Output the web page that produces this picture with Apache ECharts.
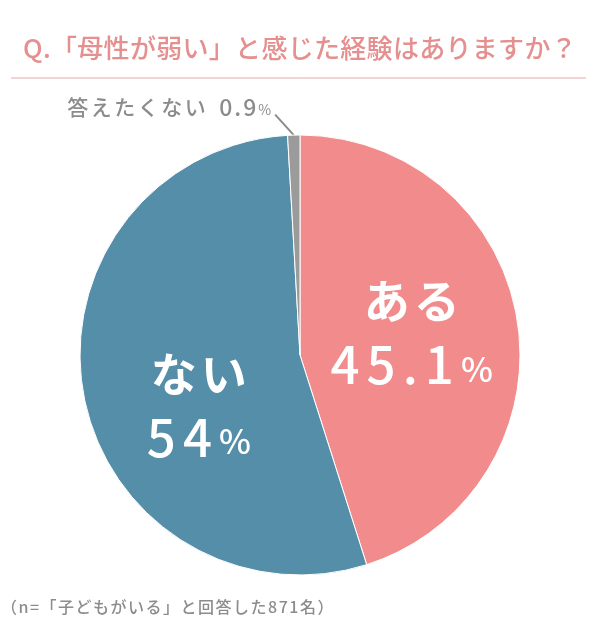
<!doctype html>
<html lang="ja">
<head>
    <meta charset="UTF-8">
    <title>母性が弱いと感じた経験</title>
    <script src="https://cdn.jsdelivr.net/npm/echarts@6/dist/echarts.min.js"></script>
    <style>
        html, body {margin: 0; padding: 0; background: #fff;}
        #chart {width: 600px; height: 630px;}
    </style>
</head>
<body>
<div id="chart"></div>
<script type="text/javascript">
    const categories = ['ある', 'ない', '答えたくない'];
    const values = [45.1, 54, 0.9];
    const valueLabels = ['45.1', '54', '0.9'];
    const colors = ['#F28C8C', '#558EA8', '#9B9B9B'];

    const font = '"Noto Sans CJK JP", "Noto Sans", sans-serif';

    // split text into rich tokens so each character gets some spacing
    function spaced(text, style) {
        let out = '';
        for (let ch of text) {
            out += '{' + style + '|' + ch + '}';
        }
        return out;
    }

    let data_arr = [];
    for (let i = 0; i < categories.length; i++) {
        let item = {
            name: categories[i],
            value: values[i],
            itemStyle: {color: colors[i]}
        };
        if (i === 2) {
            item.label = {
                position: 'outside',
                formatter: spaced(categories[i], 'n') + '{s| }' + spaced(valueLabels[i], 'v') + '{p|%}',
                rich: {
                    n: {fontSize: 21, color: '#8c8c8c', fontFamily: font, fontWeight: 500, padding: [0, 2.5, 0, 0]},
                    s: {fontSize: 14, padding: [0, 7, 0, 0]},
                    v: {fontSize: 23, color: '#8c8c8c', fontFamily: font, fontWeight: 500, padding: [0, 2, 0, 0]},
                    p: {fontSize: 14, color: '#8c8c8c', fontFamily: font, padding: [5, 0, 0, 0]}
                }
            };
            item.labelLine = {show: true, length: 22, length2: 0, lineStyle: {color: '#8c8c8c', width: 2}};
        } else {
            item.label = {
                position: 'inside',
                formatter: spaced(categories[i], 'n') + '\n' + spaced(valueLabels[i], 'v') + '{p|%}',
                rich: {
                    n: {fontSize: 46, color: '#fff', fontFamily: font, fontWeight: 'bold', lineHeight: 64, padding: [0, 2, 0, 2]},
                    v: {fontSize: 51, color: '#fff', fontFamily: font, fontWeight: 500, lineHeight: 64, padding: [0, 7, 0, 0]},
                    p: {fontSize: 34, color: '#fff', fontFamily: font, fontWeight: 500, padding: [8, 0, 0, 0]}
                }
            };
            item.labelLine = {show: false};
        }
        data_arr.push(item);
    }

    let chart = echarts.init(document.getElementById('chart'));
    chart.setOption({
        animation: false,
        title: [{
            text: spaced('Q.「母性が弱い」と感じた経験はありますか？', 't'),
            left: 'center',
            top: 30,
            textStyle: {
                rich: {
                    t: {color: '#E58F8F', fontSize: 26, fontWeight: 500, fontFamily: font, padding: [0, 0.3, 0, 0]}
                }
            }
        }, {
            text: spaced('（n=「子どもがいる」と回答した871名）', 'f'),
            left: -4,
            top: 594,
            textStyle: {
                rich: {
                    f: {color: '#8c8c8c', fontSize: 16, fontWeight: 500, fontFamily: font, padding: [0, 1.5, 0, 0]}
                }
            }
        }],
        graphic: [{
            type: 'line',
            shape: {x1: 11, y1: 78, x2: 586, y2: 78},
            style: {stroke: '#E6A8A8', lineWidth: 1}
        }],
        series: [{
            type: 'pie',
            center: [300, 355],
            radius: 220,
            startAngle: 90,
            clockwise: true,
            itemStyle: {borderColor: '#fff', borderWidth: 1},
            labelLayout: function (params) {
                if (params.dataIndex === 0) {
                    return {dy: -5};
                }
                if (params.dataIndex === 1) {
                    return {dx: 10, dy: 30};
                }
                // small slice: move the label left and point the line at its end
                let dx = -17, dy = -6;
                let r = params.labelRect;
                let start = params.labelLinePoints ? params.labelLinePoints[0] : null;
                let out = {dx: dx, dy: dy};
                if (start) {
                    let end = [r.x + r.width + dx + 4, r.y + r.height + dy - 4];
                    out.labelLinePoints = [start, end, end];
                }
                return out;
            },
            data: data_arr
        }]
    });
</script>
</body>
</html>
